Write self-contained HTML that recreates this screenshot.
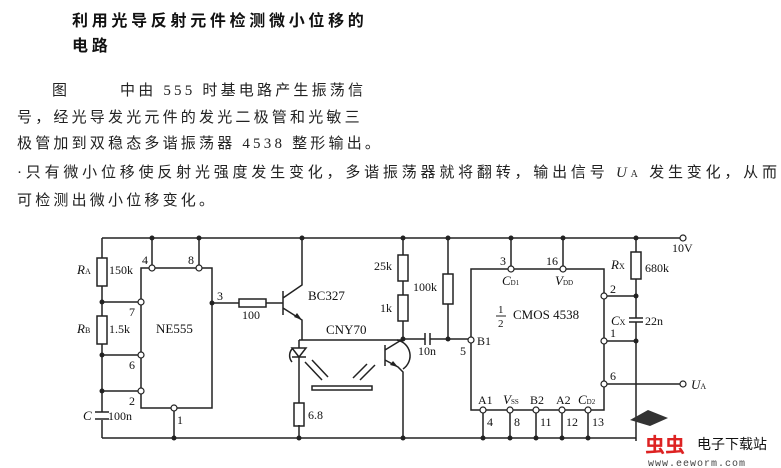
<!DOCTYPE html>
<html><head><meta charset="utf-8"><style>
html,body{margin:0;padding:0;background:#fff;width:781px;height:468px;overflow:hidden}
svg{display:block}
.c{font-family:"Liberation Serif","Noto Sans CJK SC",serif;font-size:15px;fill:#222;letter-spacing:3.2px}
.l{font-family:"Liberation Serif",serif;font-size:12px;fill:#111}
</style></head><body>
<svg width="781" height="468" xmlns="http://www.w3.org/2000/svg">
<text x="72" y="26" style="font-family:'Noto Sans CJK SC',sans-serif;font-weight:bold;font-size:16px;letter-spacing:3.7px" fill="#111">利用光导反射元件检测微小位移的</text>
<text x="72" y="51" style="font-family:'Noto Sans CJK SC',sans-serif;font-weight:bold;font-size:16px;letter-spacing:3.7px" fill="#111">电路</text>
<text x="52" y="95" class="c">图</text>
<text x="120" y="95" class="c">中由 555 时基电路产生振荡信</text>
<text x="17" y="122" class="c">号，经光导发光元件的发光二极管和光敏三</text>
<text x="17" y="148" class="c">极管加到双稳态多谐振荡器 4538 整形输出。</text>
<text x="17" y="177" class="c" style="letter-spacing:0" textLength="760" lengthAdjust="spacing">·只有微小位移使反射光强度发生变化，多谐振荡器就将翻转，输出信号 <tspan font-style="italic">U</tspan><tspan font-size="10">A</tspan> 发生变化，从而</text>
<text x="17" y="205" class="c">可检测出微小位移变化。</text>

<g stroke="#222" stroke-width="1.5" fill="none">
<path d="M102 238H680"/>
<path d="M102 438H636"/>
<path d="M102 238V258M102 286V316M102 344V412M102 420V438"/>
<rect x="97" y="258" width="10" height="28"/>
<rect x="97" y="316" width="10" height="28"/>
<path d="M95 412H109M95 419H109"/>
<path d="M102 302H141M102 355H141M102 391H141"/>
<path d="M152 268H212V408H174M174 408H141V268H152"/>
<path d="M152 238V268M199 238V268M174 408V438"/>
<path d="M212 303H239M266 303H283"/>
<rect x="239" y="299" width="27" height="8"/>
<path d="M283 291V315M283 298L302 285V238M283 308L302 320V340"/>
<path d="M299 340V348M299 357V403M299 425V438"/>
<path d="M292 348H306L299 357ZM292 357H306"/>
<rect x="294" y="403" width="10" height="23"/>
<path d="M299 340H403"/>
<path d="M293 348A10 10 0 0 0 292 362"/>
<path d="M305 362L322 380M312 360L328 377M353 378L367 364M360 380L375 365"/>
<rect x="312" y="386" width="60" height="4"/>
<path d="M385 345V366M385 350L403 339M385 360L398 367L403 372V438"/>
<path d="M397 340A16 16 0 0 1 403 369"/>
<path d="M403 238V255M403 281V295M403 321V339"/>
<rect x="398" y="255" width="10" height="26"/>
<rect x="398" y="295" width="10" height="26"/>
<path d="M403 339H425M430 339H471M425 333V345M430 333V345"/>
<path d="M448 238V274M448 304V339"/>
<rect x="443" y="274" width="10" height="30"/>
<path d="M471 269H604V410H471Z"/>
<path d="M511 238V269M563 238V269"/>
<path d="M483 410V438M510 410V438M536 410V438M562 410V438M588 410V438"/>
<path d="M604 296H636M604 341H636M604 384H680"/>
<path d="M636 238V252M636 279V318M636 322V441"/>
<rect x="631" y="252" width="10" height="27"/>
<path d="M629 318H643M629 322H643"/>
</g>
<g fill="#222">
<circle cx="152" cy="238" r="2.5"/><circle cx="199" cy="238" r="2.5"/><circle cx="302" cy="238" r="2.5"/><circle cx="403" cy="238" r="2.5"/><circle cx="448" cy="238" r="2.5"/><circle cx="511" cy="238" r="2.5"/><circle cx="563" cy="238" r="2.5"/><circle cx="636" cy="238" r="2.5"/>
<circle cx="102" cy="302" r="2.5"/><circle cx="102" cy="355" r="2.5"/><circle cx="102" cy="391" r="2.5"/><circle cx="212" cy="303" r="2.5"/>
<circle cx="174" cy="438" r="2.5"/><circle cx="299" cy="438" r="2.5"/><circle cx="403" cy="438" r="2.5"/><circle cx="403" cy="339" r="2.5"/><circle cx="448" cy="339" r="2.5"/>
<circle cx="483" cy="438" r="2.5"/><circle cx="510" cy="438" r="2.5"/><circle cx="536" cy="438" r="2.5"/><circle cx="562" cy="438" r="2.5"/><circle cx="588" cy="438" r="2.5"/>
<circle cx="636" cy="296" r="2.5"/><circle cx="636" cy="341" r="2.5"/>
<path d="M302 320L294 317L297 313Z"/><path d="M398 367L390 365L393 361Z"/>
</g>
<g fill="#fff" stroke="#222" stroke-width="1.2">
<circle cx="152" cy="268" r="3"/><circle cx="199" cy="268" r="3"/><circle cx="141" cy="302" r="3"/><circle cx="141" cy="355" r="3"/><circle cx="141" cy="391" r="3"/><circle cx="174" cy="408" r="3"/>
<circle cx="471" cy="340" r="3"/><circle cx="511" cy="269" r="3"/><circle cx="563" cy="269" r="3"/>
<circle cx="604" cy="296" r="3"/><circle cx="604" cy="341" r="3"/><circle cx="604" cy="384" r="3"/>
<circle cx="483" cy="410" r="3"/><circle cx="510" cy="410" r="3"/><circle cx="536" cy="410" r="3"/><circle cx="562" cy="410" r="3"/><circle cx="588" cy="410" r="3"/>
<circle cx="683" cy="238" r="3"/><circle cx="683" cy="384" r="3"/>
</g>
<g class="l">
<text x="77" y="274" font-style="italic" font-size="13">R<tspan font-size="8" font-style="normal">A</tspan></text>
<text x="109" y="274">150k</text>
<text x="142" y="264">4</text><text x="188" y="264">8</text>
<text x="129" y="316">7</text>
<text x="77" y="333" font-style="italic" font-size="13">R<tspan font-size="8" font-style="normal">B</tspan></text>
<text x="109" y="333">1.5k</text>
<text x="156" y="333" font-size="13">NE555</text>
<text x="129" y="369">6</text><text x="129" y="405">2</text>
<text x="83" y="420" font-style="italic" font-size="13">C</text><text x="108" y="420">100n</text>
<text x="177" y="424">1</text><text x="217" y="300">3</text>
<text x="242" y="319">100</text>
<text x="308" y="300" font-size="13">BC327</text>
<text x="326" y="334" font-size="13">CNY70</text>
<text x="308" y="419">6.8</text>
<text x="374" y="270">25k</text><text x="380" y="312">1k</text>
<text x="413" y="291">100k</text><text x="418" y="355">10n</text>
<text x="460" y="355">5</text><text x="477" y="345">B1</text>
<text x="500" y="265">3</text><text x="546" y="265">16</text>
<text x="502" y="285" font-style="italic" font-size="13">C<tspan font-size="7" font-style="normal">D1</tspan></text>
<text x="555" y="285" font-style="italic" font-size="13">V<tspan font-size="7" font-style="normal">DD</tspan></text>
<text x="498" y="313" font-size="11">1</text><text x="498" y="327" font-size="11">2</text>
<path d="M496 316H506" stroke="#222"/>
<text x="513" y="319" font-size="13">CMOS 4538</text>
<text x="610" y="293">2</text><text x="610" y="337">1</text><text x="610" y="380">6</text>
<text x="611" y="269" font-style="italic" font-size="13">R<tspan font-size="8" font-style="normal">X</tspan></text>
<text x="645" y="272">680k</text>
<text x="611" y="325" font-style="italic" font-size="13">C<tspan font-size="8" font-style="normal">X</tspan></text>
<text x="645" y="325">22n</text>
<text x="672" y="252">10V</text>
<text x="691" y="389" font-style="italic" font-size="13">U<tspan font-size="8" font-style="normal">A</tspan></text>
<text x="478" y="404">A1</text>
<text x="503" y="404" font-style="italic" font-size="13">V<tspan font-size="7" font-style="normal">SS</tspan></text>
<text x="530" y="404">B2</text><text x="556" y="404">A2</text>
<text x="578" y="404" font-style="italic" font-size="13">C<tspan font-size="7" font-style="normal">D2</tspan></text>
<text x="487" y="426">4</text><text x="514" y="426">8</text><text x="540" y="426">11</text><text x="566" y="426">12</text><text x="592" y="426">13</text>
</g>
<g>
<path d="M630 420L648 410L668 418L650 426Z" fill="#333"/>
<text x="645" y="452" style="font-family:'Noto Sans CJK SC',sans-serif;font-weight:bold;font-size:20px" fill="#d22">虫虫</text>
<text x="697" y="449" style="font-family:'Noto Sans CJK SC',sans-serif;font-size:14px" fill="#111">电子下载站</text>
<text x="648" y="466" style="font-family:'Liberation Mono',monospace;font-size:10px;letter-spacing:1px" fill="#444">www.eeworm.com</text>
</g>
</svg>
</body></html>
